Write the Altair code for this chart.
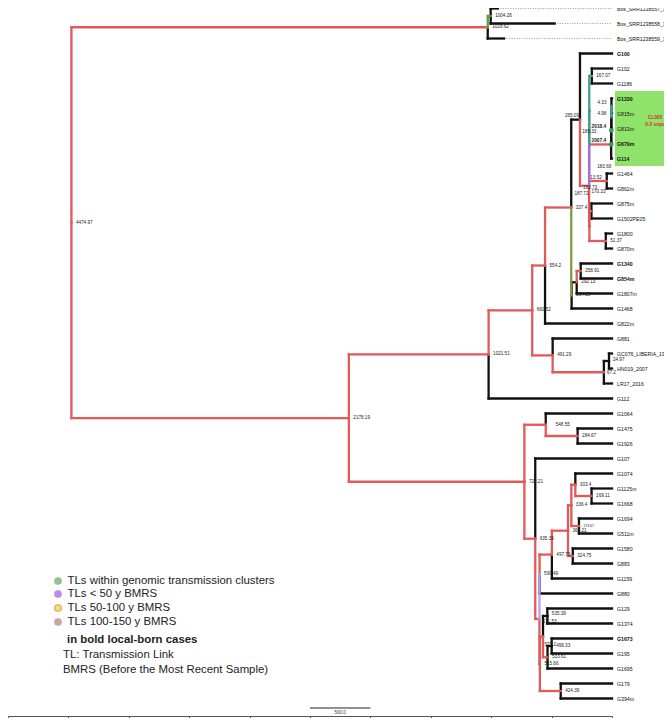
import altair as alt
import pandas as pd

# ---------------- data ----------------
leaf_names = ["Bos_SRR1238557_1100", "Bos_SRR1238558_1100", "Bos_SRR1238559_1200",
              "G100", "G102", "G1186", "G1330", "G815m", "G813m", "G679m", "G114",
              "G1464", "G862m", "G875m", "G1502PE05", "G1800", "G870m", "G1340", "G854m",
              "G1807m", "G1468", "G822m", "G881", "GC076_LIBERIA_1993", "HN019_2007",
              "LR17_2016", "G112", "G1064", "G1475", "G1926", "G107", "G1074", "G1125m",
              "G1668", "G1694", "G511m", "G1580", "G883", "G1159", "G880", "G129", "G1374",
              "G1673", "G195", "G1695", "G179", "G394m"]
bold_leaves = ["G100", "G1330", "G679m", "G114", "G1340", "G854m", "G1673"]
old_tip_names = ["Bos_SRR1238557_1100", "Bos_SRR1238558_1100", "Bos_SRR1238559_1200"]
old_tip_ages = [945, 475, 893]

node_names = ["R", "BOS", "BOS12", "MAIN", "N1021", "N660", "N554", "N337", "N265", "P",
              "Q", "Q1", "N167", "CD", "CC", "CB", "CA", "N43", "S", "N170", "N51",
              "N334", "N292", "N258", "N491", "N67", "N24",
              "N725", "N548", "N284", "N635", "NR", "N599", "N497", "N364", "N336",
              "N303", "N169", "N273", "N324", "N515", "N571", "N535", "N533", "N499",
              "N424"]
node_ages = [4474.97, 1028.62, 1004.26, 2178.19, 1021.51, 660.52, 554.2, 337.4, 265.09, 189.5,
             188.8, 188.2, 167.07, 7, 6, 4.98, 4.33, 43.52, 187.0, 170.33, 51.37,
             334.35, 292.13, 258.91, 491.29, 67.2, 24.97,
             725.21, 548.55, 284.67, 635.39, 600.5, 599.49, 497.73, 364.21, 336.4,
             303.4, 169.11, 273.67, 324.75, 597.0, 571.2, 535.39, 533.61, 499.33,
             424.39]
node_kids = [["BOS", "MAIN"], ["BOS12", "Bos_SRR1238559_1200"],
             ["Bos_SRR1238557_1100", "Bos_SRR1238558_1100"], ["N1021", "N725"],
             ["N660", "G112"], ["N554", "N491"], ["N337", "G822m"], ["N265", "N334"],
             ["G100", "P"], ["Q", "S"], ["Q1", "N43"], ["N167", "CD"], ["G102", "G1186"],
             ["CC", "G114"], ["CB", "G679m"], ["CA", "G813m"], ["G1330", "G815m"],
             ["G1464", "G862m"], ["N170", "N51"], ["G875m", "G1502PE05"],
             ["G1800", "G870m"], ["N292", "G1468"], ["N258", "G1807m"], ["G1340", "G854m"],
             ["G881", "N67"], ["N24", "LR17_2016"], ["GC076_LIBERIA_1993", "HN019_2007"],
             ["N548", "N635"], ["G1064", "N284"], ["G1475", "G1926"], ["G107", "NR"],
             ["N599", "N515"], ["N497", "G880"], ["N364", "G1159"], ["N336", "N324"],
             ["N303", "N273"], ["G1074", "N169"], ["G1125m", "G1668"], ["G1694", "G511m"],
             ["G1580", "G883"], ["N571", "N424"], ["N535", "N533"], ["G129", "G1374"],
             ["N499", "G1695"], ["G1673", "G195"], ["G179", "G394m"]]
node_labels = ["4474.97", "1028.62", "1004.26", "2178.19", "1021.51", "660.52", "554.2",
               "337.4", "265.09", "182.73", "183.69", "189.33", "167.07", "2007.4", "2018.4",
               "4.98", "4.33", "13.52", "187.72", "170.33", "51.37", "334.35", "292.13",
               "258.91", "491.29", "67.2", "24.97", "725.21", "548.55", "284.67", "635.39",
               "571.53", "599.49", "497.73", "364.21", "336.4", "303.4", "169.11", "273.67",
               "324.75", "515.66", "571.2", "535.39", "533.61", "499.33", "424.39"]
bold_node_labels = ["2007.4", "2018.4"]
small_node_labels = ["273.67"]
left_labels = ["265.09", "2007.4", "2018.4", "4.98", "4.33", "13.52"]
green_dot_nodes = ["CD", "CC"]

# colour of the branch leading to each listed node (all other branches black)
colored_nodes = ["BOS", "MAIN", "BOS12", "N1021", "N725", "N660", "N554", "N491", "N337",
                 "N334", "P", "Q", "Q1", "N167", "CD", "N43", "S", "N170", "N51", "CA",
                 "N258", "N67", "N548", "N284", "N635", "NR", "N599", "N497", "N364",
                 "N336", "N303", "N169", "N273", "N324", "N515", "N571", "N533", "N424"]
colored_codes = ["r", "r", "g", "r", "r", "r", "r", "r", "r",
                 "o", "r", "p", "t", "t", "r", "r", "r", "r", "r", "t",
                 "r", "r", "r", "r", "r", "r", "l", "r", "r",
                 "r", "r", "r", "r", "r", "r", "r", "r", "r"]
vertical_override_nodes = ["CD"]
vertical_override_codes = ["t"]
color_codes = ["k", "r", "g", "o", "t", "p", "l"]
color_values = ["#111111", "#e05a5a", "#5aa040", "#7d9c3c", "#3f9e8c", "#9b70d8", "#b3a4ec"]

legend_texts = ["TLs within genomic transmission clusters", "TLs < 50 y BMRS",
                "TLs 50-100 y BMRS", "TLs 100-150 y BMRS"]
legend_fill = ["#93c293", "#b78ce8", "#f7e07c", "#c9a3a3"]
legend_stroke = ["#93c293", "#b78ce8", "#e99a4a", "#c9a3a3"]
note_texts = ["in bold local-born cases", "TL: Transmission Link",
              "BMRS (Before the Most Recent Sample)"]
axis_values = [0, 500, 1000, 1500, 2000, 2500, 3000, 3500, 4000, 4500, 5000]
scale_bar = [2500, 2000]
scale_bar_label = "500.0"
cluster_name = ["CL005", "0-2 snps"]
cluster_members = ["G1330", "G114"]

# ---------------- layout (pixels) ----------------
W, H = 604, 708
X0, Y0 = 8, 8                      # page offset of the plot area
ROW0, ROWSTEP = 0.5, 15.0          # row position in plot px
PX_PER_YEAR = W / 5000.0
LABEL_R = (4.5, 0)                 # default offset of labels right of a node
LABEL_L = (-5, -3)                 # default offset of labels left of a node
label_offsets = {"189.33": ("left", -7, 22), "183.69": ("left", 8, 21),
                 "182.73": ("left", -6, 2), "187.72": ("left", -15, -32),
                 "170.33": ("left", 0, -19), "265.09": ("right", -1, -4),
                 "548.55": ("left", 10, 0), "571.2": ("left", 1.5, 8),
                 "67.2": ("left", 3, 1), "24.97": ("left", 4, -1),
                 "535.39": ("left", 4.5, -2.5), "571.53": ("left", 3, 3)}


def px_to_age(px):
    return (X0 + W - px) / PX_PER_YEAR


def py_to_row(py):
    return (py - Y0 - ROW0) / ROWSTEP


row_top = py_to_row(Y0)
row_bot = py_to_row(Y0 + H)

# ---------------- build tree geometry ----------------
age = {n: 0.0 for n in leaf_names}
for n, a in zip(old_tip_names, old_tip_ages):
    age[n] = a
for n, a in zip(node_names, node_ages):
    age[n] = a
kids = dict(zip(node_names, node_kids))
ypos = {n: i for i, n in enumerate(leaf_names)}


def place(n):
    if n in ypos:
        return ypos[n]
    ys = [place(k) for k in kids[n]]
    ypos[n] = (ys[0] + ys[-1]) / 2.0
    return ypos[n]


place("R")
ccode = dict(zip(colored_nodes, colored_codes))
vcode = dict(zip(vertical_override_nodes, vertical_override_codes))

seg = []
for p in node_names:
    for c in kids[p]:
        col = ccode.get(c, "k")
        vcol = vcode.get(c, col)
        seg.append(dict(x=age[p], x2=age[p], y=ypos[p], y2=ypos[c], c=vcol,
                        o=color_codes.index(vcol)))
        seg.append(dict(x=age[p], x2=age[c], y=ypos[c], y2=ypos[c], c=col,
                        o=color_codes.index(col)))
seg = pd.DataFrame(seg).sort_values("o", kind="stable")

dotted = pd.DataFrame([dict(x=age[n], x2=0, y=ypos[n]) for n in old_tip_names])

leaves = pd.DataFrame(dict(x=[0.0] * len(leaf_names), y=[ypos[n] for n in leaf_names],
                           t=leaf_names,
                           b=[n in bold_leaves for n in leaf_names]))
rows = []
for n, t in zip(node_names, node_labels):
    if not t:
        continue
    if t in label_offsets:
        al, dx, dy = label_offsets[t]
    elif t in left_labels:
        al, (dx, dy) = "right", LABEL_L
    else:
        al, (dx, dy) = "left", LABEL_R
    rows.append(dict(x=age[n] - dx / PX_PER_YEAR, y=ypos[n] + dy / ROWSTEP, t=t, a=al,
                     b=t in bold_node_labels, s=t in small_node_labels))
nl = pd.DataFrame(rows)
gdots = pd.DataFrame(dict(x=[age[n] for n in green_dot_nodes],
                          y=[ypos[n] for n in green_dot_nodes]))

box = pd.DataFrame([dict(x=px_to_age(615), x2=px_to_age(665),
                         y=ypos[cluster_members[0]] - 0.5, y2=ypos[cluster_members[1]] + 0.5)])
cl_text = pd.DataFrame(dict(x=[px_to_age(655)] * 2,
                            y=[py_to_row(118), py_to_row(124.5)], t=cluster_name))

leg = pd.DataFrame(dict(x=[px_to_age(58)] * 4,
                        y=[py_to_row(v) for v in (581, 594, 608, 622)],
                        t=legend_texts, f=legend_fill, s=legend_stroke))
leg["tx"] = px_to_age(67.5)
notes = pd.DataFrame(dict(x=[px_to_age(67), px_to_age(63), px_to_age(63)],
                          y=[py_to_row(v) for v in (640, 655, 669.5)],
                          t=note_texts, b=[True, False, False]))
sb = pd.DataFrame([dict(x=scale_bar[0], x2=scale_bar[1], y=py_to_row(708),
                        xm=(scale_bar[0] + scale_bar[1]) / 2, ym=py_to_row(713),
                        t=scale_bar_label)])

# ---------------- encodings ----------------
XS = alt.Scale(domain=[5000, 0], nice=False, zero=False)
YS = alt.Scale(domain=[row_top, row_bot], reverse=True, nice=False, zero=False)
XAX = alt.Axis(values=axis_values, format="d", title=None, grid=False,
               labelExpr="datum.value % 1000 == 0 ? datum.label : ''",
               labelFontSize=4.5, labelColor="#444", tickColor="#555", domainColor="#555",
               tickSize=3, labelPadding=2, domainWidth=1, labelFlush=False)


def X(f="x"):
    return alt.X(f + ":Q", scale=XS, axis=XAX)


def Y(f="y"):
    return alt.Y(f + ":Q", scale=YS, axis=None)


cscale = alt.Scale(domain=color_codes, range=color_values)

layers = []
layers.append(alt.Chart(box).mark_rect(color="#90e36a").encode(
    x=X(), x2="x2", y=Y(), y2="y2"))
layers.append(alt.Chart(dotted).mark_rule(color="#9a9a9a", strokeDash=[1, 1.5],
                                          strokeWidth=1).encode(x=X(), x2="x2", y=Y()))
layers.append(alt.Chart(seg).mark_rule(strokeWidth=2.3, strokeCap="square").encode(
    x=X(), x2="x2", y=Y(), y2="y2",
    color=alt.Color("c:N", scale=cscale, legend=None), order="o:Q"))
layers.append(alt.Chart(gdots).mark_circle(size=22, color="#3d9a55", opacity=1).encode(
    x=X(), y=Y()))
for bold in (False, True):
    layers.append(alt.Chart(leaves[leaves.b == bold]).mark_text(
        align="left", baseline="middle", dx=5, fontSize=5.2, font="Liberation Sans",
        fontWeight="bold" if bold else "normal", color="#111").encode(
        x=X(), y=Y(), text="t:N"))
for al in ("left", "right"):
    for bold in (False, True):
        for small in (False, True):
            d = nl[(nl.a == al) & (nl.b == bold) & (nl.s == small)]
            if len(d) == 0:
                continue
            layers.append(alt.Chart(d).mark_text(
                align=al, baseline="middle",
                fontSize=3.4 if small else (4.8 if bold else 4.6), font="Liberation Sans",
                fontWeight="bold" if bold else "normal", color="#222").encode(
                x=X(), y=Y(), text="t:N"))
layers.append(alt.Chart(cl_text).mark_text(
    align="center", baseline="middle", fontSize=4.8, fontWeight="bold", color="#d03030",
    font="Liberation Sans").encode(x=X(), y=Y(), text="t:N"))
layers.append(alt.Chart(leg).mark_point(filled=True, size=42, strokeWidth=1.2, opacity=1).encode(
    x=X(), y=Y(), fill=alt.Fill("f:N", scale=None), stroke=alt.Stroke("s:N", scale=None)))
layers.append(alt.Chart(leg).mark_text(
    align="left", baseline="middle", fontSize=11.4, font="Liberation Sans", color="#222").encode(
    x=X("tx"), y=Y(), text="t:N"))
for bold in (True, False):
    layers.append(alt.Chart(notes[notes.b == bold]).mark_text(
        align="left", baseline="middle", fontSize=11.4, font="Liberation Sans",
        fontWeight="bold" if bold else "normal", color="#222").encode(
        x=X(), y=Y(), text="t:N"))
layers.append(alt.Chart(sb).mark_rule(color="#222", strokeWidth=1.2).encode(
    x=X(), x2="x2", y=Y()))
layers.append(alt.Chart(sb).mark_text(fontSize=4.5, color="#333", baseline="middle",
                                      font="Liberation Sans").encode(
    x=X("xm"), y=Y("ym"), text="t:N"))

chart = alt.layer(*layers).properties(
    width=W, height=H, autosize="none",
    padding={"left": 0, "top": 0, "right": 52, "bottom": 2}
).configure_view(stroke=None)

chart.save("out.html", embed_options={"renderer": "svg", "actions": False})
